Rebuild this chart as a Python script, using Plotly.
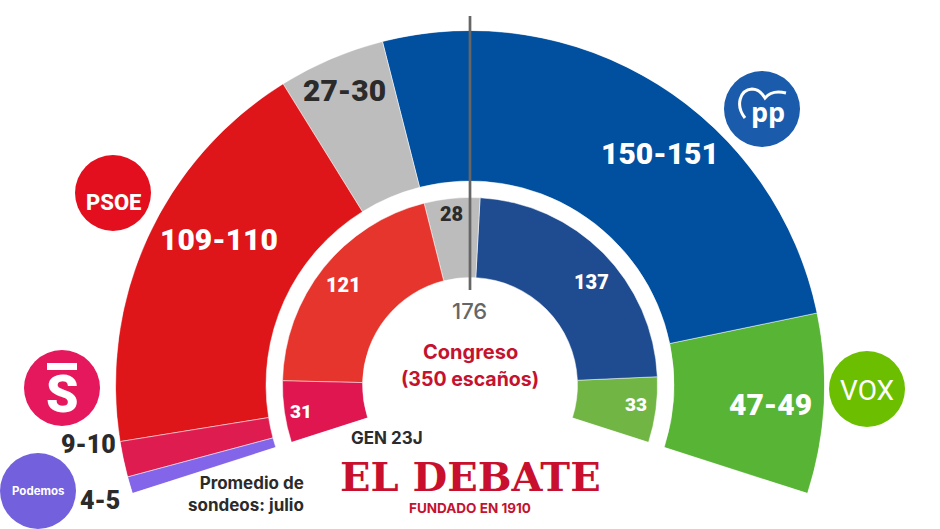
import numpy as np
import plotly.graph_objects as go

# Escaños, de derecha a izquierda del hemiciclo
sondeo_partidos = ['Vox', 'PP', 'Otros', 'PSOE', 'Sumar', 'Podemos']
sondeo_escanos = [48, 150.5, 28.5, 109.5, 9.5, 4.5]
sondeo_rangos = ['47-49', '150-151', '27-30', '109-110', '9-10', '4-5']

gen_partidos = ['Vox', 'PP', 'Otros', 'PSOE', 'Sumar']
gen_escanos = [33, 137, 28, 121, 31]

sondeo_colores = ['#57b435', '#014f9f', '#bdbdbd', '#de1519', '#df1c50', '#8265e8']
gen_colores = ['#71b544', '#1f4c91', '#bcbcbc', '#e5352d', '#df1650']

W, H = 940, 529
FONT = 'Inter'
NUM = 'Roboto'
OSCURO = '#2b2b2b'
GRANATE = '#c4122f'

# geometria del hemiciclo (pixeles)
CX, CY = 470, 385
ANG = 17.8
R_MAX = 354.5


def px(x):
    return x / W


def py(y):
    return 1 - y / H


def anillo(partidos, escanos, colores, r0, r1):
    escanos = np.array(escanos, dtype=float)
    paso = (180 + 2 * ANG) / escanos.sum()
    anchos = escanos * paso
    centros = -ANG + np.concatenate([[0], np.cumsum(anchos)[:-1]]) + anchos / 2
    return go.Barpolar(theta=centros, width=anchos, base=r0, r=[r1 - r0] * len(escanos),
                       marker=dict(color=colores, line=dict(color='white', width=0.5)),
                       text=partidos, hoverinfo='text', showlegend=False)


def texto(x, y, s, size, color, weight=800, family=FONT, align='center', anchor='center'):
    fig.add_annotation(x=px(x), y=py(y), xref='paper', yref='paper', text=s, showarrow=False,
                       xanchor=anchor, yanchor='middle', align=align,
                       font=dict(family=family, size=size, color=color, weight=weight))


def circulo(x, y, color, r=38):
    fig.add_shape(type='circle', xref='paper', yref='paper', x0=px(x - r), x1=px(x + r),
                  y0=py(y + r), y1=py(y - r), fillcolor=color, line_width=0, layer='above')


fig = go.Figure()
fig.add_trace(anillo(sondeo_partidos, sondeo_escanos, sondeo_colores, 204, R_MAX))
fig.add_trace(anillo(gen_partidos, gen_escanos, gen_colores, 107.5, 187.5))

fig.update_layout(
    width=W, height=H, margin=dict(l=0, r=0, t=0, b=0),
    paper_bgcolor='white',
    polar=dict(
        domain=dict(x=[px(CX - R_MAX), px(CX + R_MAX)],
                    y=[py(CY + R_MAX * np.sin(np.radians(ANG))), py(CY - R_MAX)]),
        sector=[-ANG, 180 + ANG],
        bgcolor='rgba(0,0,0,0)',
        radialaxis=dict(visible=False, range=[0, R_MAX]),
        angularaxis=dict(visible=False)),
    barmode='overlay')

# linea de mayoria
fig.add_shape(type='line', xref='paper', yref='paper', x0=px(470), x1=px(470), y0=py(16), y1=py(290),
              line=dict(color='#666666', width=2.7), layer='above')

# logos
circulo(762, 109, '#1a5bab')
circulo(867, 389, '#6bbf00')
circulo(113, 193, '#e30f1e')
circulo(62, 388, '#e5175d')
circulo(38, 491, '#7360dd')

puntos = [(745, 118), (735, 105), (740, 90), (752, 89), (758, 89), (762, 93), (765, 98),
          (770, 92), (778, 91), (786, 93)]
ruta = 'M%f,%f C%f,%f %f,%f %f,%f C%f,%f %f,%f %f,%f C%f,%f %f,%f %f,%f' % tuple(
    v for p in puntos for v in (px(p[0]), py(p[1])))
fig.add_shape(type='path', xref='paper', yref='paper', path=ruta, line=dict(color='white', width=3),
              layer='above')
texto(768, 111, 'pp', 27, 'white', 700, 'Open Sans')
texto(867, 390, 'VOX', 28, 'white', 400, 'Roboto')
texto(113, 202, 'PSOE', 22, 'white', 800, 'Roboto')
fig.add_shape(type='rect', xref='paper', yref='paper', x0=px(47), x1=px(77), y0=py(370), y1=py(363),
              fillcolor='white', line_width=0, layer='above')
texto(62, 394, 'S', 52, 'white', 900, NUM)
texto(38, 491, 'Podemos', 11.5, 'white', 700)

# rangos del promedio de sondeos
texto(770, 404, sondeo_rangos[0], 30, 'white', 900, NUM)
texto(660, 153, sondeo_rangos[1], 30, 'white', 900, NUM)
texto(344, 91, sondeo_rangos[2], 30, OSCURO, 900, NUM)
texto(219, 239, sondeo_rangos[3], 30, 'white', 900, NUM)
texto(88, 444, sondeo_rangos[4], 25, OSCURO, 900, NUM)
texto(100, 500, sondeo_rangos[5], 25, OSCURO, 900, NUM)

# escaños 23J
texto(636, 404, str(gen_escanos[0]), 19, 'white', 900, NUM)
texto(591, 282, str(gen_escanos[1]), 20, 'white', 900, NUM)
texto(451, 214, str(gen_escanos[2]), 20, OSCURO, 900, NUM)
texto(343, 285, str(gen_escanos[3]), 20, 'white', 900, NUM)
texto(301, 411, str(gen_escanos[4]), 19, 'white', 900, NUM)

texto(469, 311, '176', 22, '#666666', 500)
texto(470, 352, 'Congreso', 20, GRANATE, 700)
texto(470, 379, '(350 escaños)', 19.5, GRANATE, 700)
texto(387, 438, 'GEN 23J', 17, OSCURO, 700)
texto(306, 494, 'Promedio de<br>sondeos: julio', 17, OSCURO, 700, align='right', anchor='right')

texto(470, 476, 'EL DEBATE', 40, '#c8102e', 700, 'DejaVu Serif')
texto(470, 508, 'FUNDADO EN 1910', 13.5, GRANATE, 700)

fig.write_html("out.html", config=dict(displayModeBar=False),
               post_script="document.body.style.margin = '0';")
